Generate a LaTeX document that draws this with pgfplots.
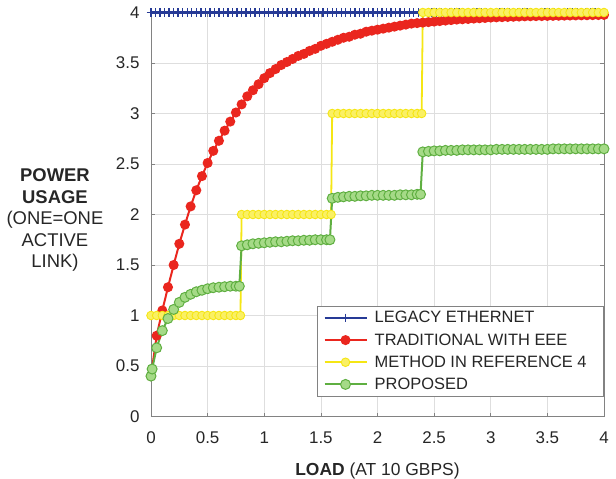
\documentclass[border=0pt]{standalone}
\usepackage{fontspec}
\setmainfont{Liberation Sans}
\usepackage{pgfplots}
\pgfplotsset{compat=1.18}
\definecolor{cblue}{RGB}{38,58,150}
\definecolor{cred}{RGB}{234,38,30}
\definecolor{cyel}{RGB}{245,230,20}
\definecolor{cyelf}{RGB}{250,240,100}
\definecolor{cgrn}{RGB}{95,175,65}
\definecolor{cgrnf}{RGB}{165,218,135}
\definecolor{gridgray}{RGB}{222,222,222}
\definecolor{axisgray}{RGB}{130,130,130}
\begin{document}
\begin{tikzpicture}
\path[use as bounding box] (-151bp,-62.5bp) rectangle (465bp,416.5bp);
\begin{axis}[
  at={(0,0)}, anchor=south west,
  scale only axis, width=453bp, height=404bp,
  xmin=0, xmax=4, ymin=0, ymax=4,
  xtick={0,0.5,...,4}, ytick={0,0.5,...,4},
  clip=false,
  axis line style={draw=axisgray, line width=0.7pt},
  tick style={draw=axisgray, line width=0.6pt},
  major tick length=4bp, tick align=inside,
  grid=major, grid style={draw=gridgray, line width=0.7pt},
  /pgf/number format/assume math mode=true,
  ticklabel style={font=\fontsize{17}{19}\selectfont, text=black!85},
  xticklabel style={yshift=-12bp},
  yticklabel style={xshift=-8bp},
  legend style={at={(1,0.05)}, anchor=south east, draw=axisgray, line width=0.8pt,
    fill=white, font=\fontsize{16.5}{19}\selectfont, row sep=5.2bp,
    inner xsep=6bp, inner ysep=3bp, text=black!85},
  legend cell align=left,
  legend image code/.code={\draw[mark repeat=2,mark phase=2,#1] plot coordinates {(0bp,0bp) (21bp,0bp) (42bp,0bp)}; \path (47bp,0bp);},
]
\addplot[cblue, line width=2.4pt, mark=+, mark size=4.3pt, mark options={line width=1.4pt}] coordinates {
(0,4)(0.04,4)(0.08,4)(0.12,4)(0.16,4)(0.20,4)(0.24,4)(0.28,4)(0.32,4)(0.36,4)
(0.40,4)(0.44,4)(0.48,4)(0.52,4)(0.56,4)(0.60,4)(0.64,4)(0.68,4)(0.72,4)(0.76,4)
(0.80,4)(0.84,4)(0.88,4)(0.92,4)(0.96,4)(1.00,4)(1.04,4)(1.08,4)(1.12,4)(1.16,4)
(1.20,4)(1.24,4)(1.28,4)(1.32,4)(1.36,4)(1.40,4)(1.44,4)(1.48,4)(1.52,4)(1.56,4)
(1.60,4)(1.64,4)(1.68,4)(1.72,4)(1.76,4)(1.80,4)(1.84,4)(1.88,4)(1.92,4)(1.96,4)
(2.00,4)(2.04,4)(2.08,4)(2.12,4)(2.16,4)(2.20,4)(2.24,4)(2.28,4)(2.32,4)(2.36,4)
(2.40,4)(2.44,4)(2.48,4)(2.52,4)(2.56,4)(2.60,4)(2.64,4)(2.68,4)(2.72,4)(2.76,4)
(2.80,4)(2.84,4)(2.88,4)(2.92,4)(2.96,4)(3.00,4)(3.04,4)(3.08,4)(3.12,4)(3.16,4)
(3.20,4)(3.24,4)(3.28,4)(3.32,4)(3.36,4)(3.40,4)(3.44,4)(3.48,4)(3.52,4)(3.56,4)
(3.60,4)(3.64,4)(3.68,4)(3.72,4)(3.76,4)(3.80,4)(3.84,4)(3.88,4)(3.92,4)(3.96,4)(4.00,4)};
\addlegendentry{LEGACY ETHERNET}
\addplot[cred, line width=2pt, mark=*, mark size=4pt, mark options={fill=cred}] coordinates {
(0,0.40)(0.05,0.80)(0.10,1.05)(0.15,1.28)(0.20,1.50)(0.25,1.71)(0.30,1.90)(0.35,2.08)(0.40,2.24)(0.45,2.38)
(0.50,2.51)(0.55,2.63)(0.60,2.73)(0.65,2.83)(0.70,2.92)(0.75,3.01)(0.80,3.09)(0.85,3.17)(0.90,3.23)(0.95,3.29)
(1.00,3.35)(1.05,3.40)(1.10,3.44)(1.15,3.48)(1.20,3.51)(1.25,3.54)(1.30,3.57)(1.35,3.59)(1.40,3.62)(1.45,3.64)
(1.50,3.67)(1.55,3.69)(1.60,3.71)(1.65,3.73)(1.70,3.75)(1.75,3.76)(1.80,3.78)(1.85,3.79)(1.90,3.81)(1.95,3.82)
(2.00,3.83)(2.05,3.84)(2.10,3.85)(2.15,3.86)(2.20,3.87)(2.25,3.88)(2.30,3.89)(2.35,3.895)(2.40,3.90)(2.45,3.905)
(2.50,3.91)(2.55,3.915)(2.60,3.92)(2.65,3.925)(2.70,3.93)(2.75,3.933)(2.80,3.936)(2.85,3.94)(2.90,3.943)(2.95,3.946)
(3.00,3.95)(3.05,3.952)(3.10,3.954)(3.15,3.956)(3.20,3.958)(3.25,3.96)(3.30,3.962)(3.35,3.963)(3.40,3.964)(3.45,3.965)
(3.50,3.966)(3.55,3.967)(3.60,3.968)(3.65,3.969)(3.70,3.97)(3.75,3.971)(3.80,3.972)(3.85,3.973)(3.90,3.974)(3.95,3.975)(4.00,3.976)};
\addlegendentry{TRADITIONAL WITH EEE}
\addplot[cyel, line width=1.8pt, mark=*, mark size=4.3pt, mark options={fill=cyelf, draw=cyel, line width=0.9pt}] coordinates {
(0,1)(0.05,1)(0.10,1)(0.15,1)(0.20,1)(0.25,1)(0.30,1)(0.35,1)(0.40,1)(0.45,1)
(0.50,1)(0.55,1)(0.60,1)(0.65,1)(0.70,1)(0.75,1)(0.79,1)
(0.80,2)(0.85,2)(0.90,2)(0.95,2)(1.00,2)(1.05,2)(1.10,2)(1.15,2)(1.20,2)(1.25,2)
(1.30,2)(1.35,2)(1.40,2)(1.45,2)(1.50,2)(1.55,2)(1.59,2)
(1.60,3)(1.65,3)(1.70,3)(1.75,3)(1.80,3)(1.85,3)(1.90,3)(1.95,3)(2.00,3)(2.05,3)
(2.10,3)(2.15,3)(2.20,3)(2.25,3)(2.30,3)(2.35,3)(2.39,3)
(2.40,4)(2.45,4)(2.50,4)(2.55,4)(2.60,4)(2.65,4)(2.70,4)(2.75,4)(2.80,4)(2.85,4)(2.90,4)(2.95,4)
(3.00,4)(3.05,4)(3.10,4)(3.15,4)(3.20,4)(3.25,4)(3.30,4)(3.35,4)(3.40,4)(3.45,4)
(3.50,4)(3.55,4)(3.60,4)(3.65,4)(3.70,4)(3.75,4)(3.80,4)(3.85,4)(3.90,4)(3.95,4)(4.00,4)};
\addlegendentry{METHOD IN REFERENCE 4\hspace*{9bp}}
\addplot[cgrn, line width=2pt, mark=*, mark size=5pt, mark options={fill=cgrnf, draw=cgrn, line width=1pt}] coordinates {
(0,0.40)(0.01,0.47)(0.05,0.68)(0.10,0.85)(0.15,0.97)(0.20,1.06)(0.25,1.13)(0.30,1.18)(0.35,1.21)(0.40,1.235)(0.45,1.25)
(0.50,1.265)(0.55,1.275)(0.60,1.28)(0.65,1.285)(0.70,1.29)(0.75,1.29)(0.78,1.29)
(0.80,1.69)(0.85,1.70)(0.90,1.71)(0.95,1.715)(1.00,1.72)(1.05,1.725)(1.10,1.73)(1.15,1.73)(1.20,1.735)(1.25,1.74)
(1.30,1.74)(1.35,1.745)(1.40,1.745)(1.45,1.75)(1.50,1.75)(1.55,1.75)(1.58,1.75)
(1.60,2.16)(1.65,2.17)(1.70,2.175)(1.75,2.18)(1.80,2.18)(1.85,2.185)(1.90,2.185)(1.95,2.19)(2.00,2.19)(2.05,2.19)
(2.10,2.19)(2.15,2.19)(2.20,2.195)(2.25,2.195)(2.30,2.195)(2.35,2.20)(2.38,2.20)
(2.40,2.62)(2.45,2.625)(2.50,2.63)(2.55,2.63)(2.60,2.635)(2.65,2.635)(2.70,2.635)(2.75,2.64)(2.80,2.64)(2.85,2.64)(2.90,2.64)(2.95,2.64)
(3.00,2.64)(3.05,2.645)(3.10,2.645)(3.15,2.645)(3.20,2.645)(3.25,2.645)(3.30,2.645)(3.35,2.645)(3.40,2.645)(3.45,2.645)
(3.50,2.645)(3.55,2.65)(3.60,2.65)(3.65,2.65)(3.70,2.65)(3.75,2.65)(3.80,2.65)(3.85,2.65)(3.90,2.65)(3.95,2.65)(4.00,2.65)};
\addlegendentry{PROPOSED}
\node[align=center, font=\fontsize{18.5}{21.5}\selectfont, text=black!85] at (axis description cs:-0.212,0.486)
  {\textbf{POWER}\\\textbf{USAGE}\\(ONE=ONE\\ACTIVE\\LINK)};
\node[anchor=base, font=\fontsize{17.5}{20}\selectfont, text=black!85] at (axis description cs:0.5,-0.145)
  {\textbf{LOAD} (AT 10 GBPS)};
\end{axis}
\end{tikzpicture}
\end{document}
